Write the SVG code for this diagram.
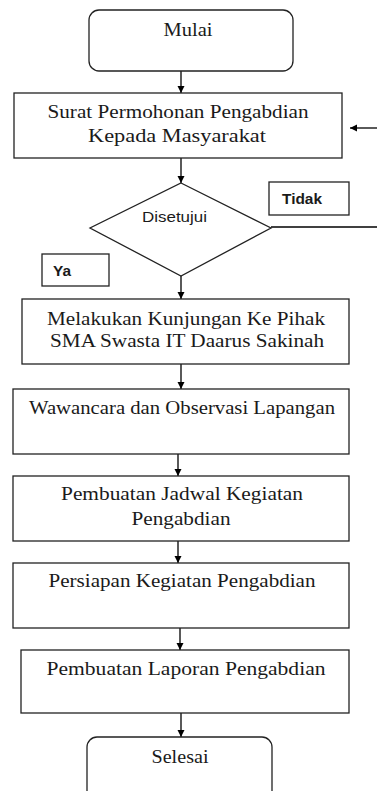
<svg xmlns="http://www.w3.org/2000/svg" width="377" height="791" viewBox="0 0 377 791">
<defs>
<marker id="ah" markerWidth="8" markerHeight="8" refX="7" refY="4" orient="auto" markerUnits="userSpaceOnUse">
<path d="M0,0.5 L7,4 L0,7.5 Z" fill="#000"/>
</marker>
<style>
.box{fill:#fff;stroke:#222;stroke-width:1.3}
.t{font-family:"Liberation Serif","Times New Roman",serif;font-size:18px;fill:#1a1a1a;text-anchor:middle}
.s{font-family:"Liberation Sans",Arial,sans-serif;font-size:14px;fill:#1a1a1a}
.b{font-family:"Liberation Sans",Arial,sans-serif;font-size:14px;font-weight:bold;fill:#1a1a1a}
.c{stroke:#000;stroke-width:1.3;fill:none}
</style>
</defs>
<rect width="377" height="791" fill="#fff"/>
<g id="connectors">
<line class="c" x1="181" y1="71" x2="181" y2="93" marker-end="url(#ah)"/>
<line class="c" x1="377" y1="128" x2="350" y2="128" marker-end="url(#ah)"/>
<line class="c" x1="181" y1="158" x2="181" y2="183" marker-end="url(#ah)"/>
<line class="c" x1="271" y1="227" x2="377" y2="227"/>
<line class="c" x1="181" y1="276" x2="181" y2="299" marker-end="url(#ah)"/>
<line class="c" x1="181" y1="364" x2="181" y2="389" marker-end="url(#ah)"/>
<line class="c" x1="178" y1="454" x2="178" y2="476" marker-end="url(#ah)"/>
<line class="c" x1="178" y1="541" x2="178" y2="563" marker-end="url(#ah)"/>
<line class="c" x1="180" y1="628" x2="180" y2="650" marker-end="url(#ah)"/>
<line class="c" x1="181" y1="713" x2="181" y2="737" marker-end="url(#ah)"/>
</g>
<g id="mulai">
<rect class="box" x="89" y="10" width="204" height="61" rx="10"/>
<text class="t" x="188" y="36" textLength="49" lengthAdjust="spacingAndGlyphs">Mulai</text>
</g>
<g id="surat">
<rect class="box" x="14" y="93" width="328" height="65"/>
<text class="t" x="178" y="118" textLength="261" lengthAdjust="spacingAndGlyphs">Surat Permohonan Pengabdian</text>
<text class="t" x="177" y="142" textLength="178" lengthAdjust="spacingAndGlyphs">Kepada Masyarakat</text>
</g>
<g id="disetujui">
<polygon class="box" points="181,183 271,228 181,276 90,228"/>
<text class="s" x="142" y="222" textLength="65" lengthAdjust="spacingAndGlyphs">Disetujui</text>
</g>
<g id="tidak">
<rect class="box" x="269" y="182" width="80" height="33"/>
<text class="b" x="282" y="204" textLength="40" lengthAdjust="spacingAndGlyphs">Tidak</text>
</g>
<g id="ya">
<rect class="box" x="42" y="254" width="67" height="32"/>
<text class="b" x="53" y="276" textLength="18" lengthAdjust="spacingAndGlyphs">Ya</text>
</g>
<g id="kunjungan">
<rect class="box" x="22" y="299" width="327" height="65"/>
<text class="t" x="186" y="325" textLength="278" lengthAdjust="spacingAndGlyphs">Melakukan Kunjungan Ke Pihak</text>
<text class="t" x="187" y="347" textLength="274" lengthAdjust="spacingAndGlyphs">SMA Swasta IT Daarus Sakinah</text>
</g>
<g id="wawancara">
<rect class="box" x="13" y="389" width="336" height="65"/>
<text class="t" x="182" y="414" textLength="306" lengthAdjust="spacingAndGlyphs">Wawancara dan Observasi Lapangan</text>
</g>
<g id="jadwal">
<rect class="box" x="13" y="476" width="336" height="65"/>
<text class="t" x="182" y="500" textLength="242" lengthAdjust="spacingAndGlyphs">Pembuatan Jadwal Kegiatan</text>
<text class="t" x="181" y="525" textLength="99" lengthAdjust="spacingAndGlyphs">Pengabdian</text>
</g>
<g id="persiapan">
<rect class="box" x="13" y="563" width="336" height="65"/>
<text class="t" x="182" y="587" textLength="267" lengthAdjust="spacingAndGlyphs">Persiapan Kegiatan Pengabdian</text>
</g>
<g id="laporan">
<rect class="box" x="21" y="650" width="328" height="63"/>
<text class="t" x="186" y="675" textLength="279" lengthAdjust="spacingAndGlyphs">Pembuatan Laporan Pengabdian</text>
</g>
<g id="selesai">
<rect class="box" x="87" y="737" width="185" height="70" rx="10"/>
<text class="t" x="180" y="763" textLength="57" lengthAdjust="spacingAndGlyphs">Selesai</text>
</g>
</svg>
